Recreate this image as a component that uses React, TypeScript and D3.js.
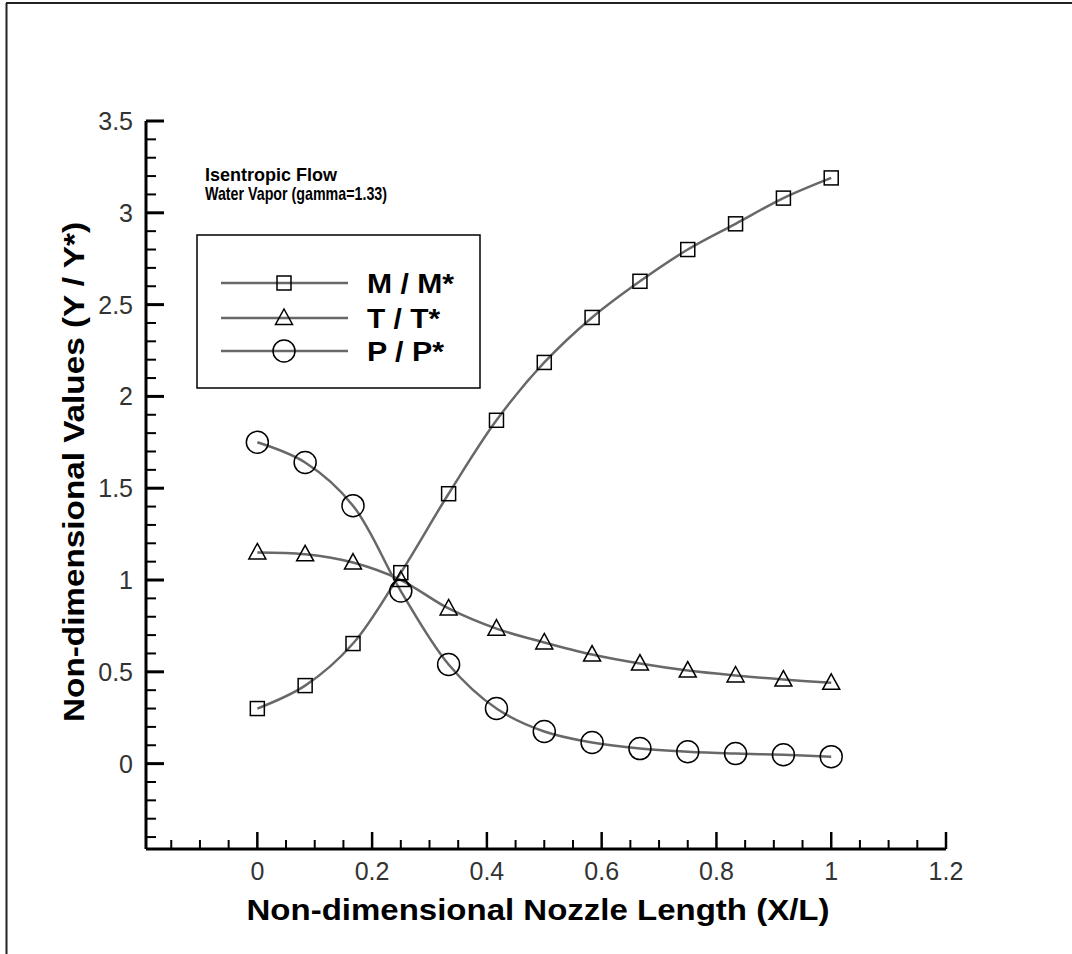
import React from 'react';
import * as d3 from 'd3';

const xPositions = [0, 0.0833, 0.1667, 0.25, 0.3333, 0.4167, 0.5, 0.5833, 0.6667, 0.75, 0.8333, 0.9167, 1];
const machRatio = [0.3, 0.425, 0.654, 1.04, 1.47, 1.87, 2.185, 2.43, 2.627, 2.8, 2.94, 3.08, 3.19];
const tempRatio = [1.15, 1.14, 1.095, 1.0, 0.845, 0.735, 0.66, 0.594, 0.545, 0.507, 0.48, 0.458, 0.44];
const presRatio = [1.75, 1.64, 1.405, 0.94, 0.54, 0.3, 0.175, 0.115, 0.082, 0.065, 0.055, 0.048, 0.038];

const xMajorTicks = [0, 0.2, 0.4, 0.6, 0.8, 1, 1.2];
const xTickLabels = ['0', '0.2', '0.4', '0.6', '0.8', '1', '1.2'];
const yMajorTicks = [0, 0.5, 1, 1.5, 2, 2.5, 3, 3.5];
const yTickLabels = ['0', '0.5', '1', '1.5', '2', '2.5', '3', '3.5'];

const seriesNames = ['M / M*', 'T / T*', 'P / P*'];
const seriesMarkers = ['square', 'triangle', 'circle'];
const seriesValues = [machRatio, tempRatio, presRatio];

const W = 1072;
const H = 954;
const FONT = '"Liberation Sans", Arial, sans-serif';
const LINE_COLOR = '#686868';

function Marker({ type, cx, cy }: { type: string; cx: number; cy: number }) {
  const st = { fill: 'none', stroke: '#000', strokeWidth: 1.5 };
  if (type === 'square') return <rect x={cx - 7} y={cy - 7} width={14} height={14} {...st} />;
  if (type === 'triangle')
    return <path d={`M${cx},${cy - 9}L${cx + 8.5},${cy + 6.5}L${cx - 8.5},${cy + 6.5}Z`} {...st} />;
  return <circle cx={cx} cy={cy} r={11} {...st} />;
}

export default function App() {
  const x = d3.scaleLinear().domain([-0.194, 1.2]).range([146, 946]);
  const y = d3.scaleLinear().domain([-0.465, 3.5]).range([849, 121]);

  const xMinor = d3.range(-0.15, 1.2001, 0.05).filter((v) => Math.abs(Math.round(v / 0.2) * 0.2 - v) > 1e-6);
  const yMinor = d3.range(-0.4, 3.5001, 0.1).filter((v) => Math.abs(Math.round(v / 0.5) * 0.5 - v) > 1e-6);

  const line = d3
    .line<[number, number]>()
    .x((d) => x(d[0]))
    .y((d) => y(d[1]))
    .curve(d3.curveCatmullRom.alpha(0.5));

  const legendRows = [283, 318, 351];

  return (
    <svg width={W} height={H} style={{ position: 'absolute', left: 0, top: 0, background: '#fff' }}>
      <rect x={0} y={0} width={W} height={H} fill="#fff" />
      {/* page frame */}
      <line x1={6.5} y1={3} x2={6.5} y2={H} stroke="#222" strokeWidth={2} />
      <line x1={6} y1={3} x2={W} y2={3} stroke="#222" strokeWidth={2} />

      {/* series lines */}
      {seriesValues.map((vals, i) => (
        <path
          key={'l' + i}
          d={line(xPositions.map((xv, j) => [xv, vals[j]] as [number, number])) || ''}
          fill="none"
          stroke={LINE_COLOR}
          strokeWidth={2.5}
        />
      ))}
      {seriesValues.map((vals, i) =>
        xPositions.map((xv, j) => <Marker key={`m${i}-${j}`} type={seriesMarkers[i]} cx={x(xv)} cy={y(vals[j])} />)
      )}

      {/* axes */}
      <line x1={x(-0.194)} y1={y(-0.465)} x2={x(1.2)} y2={y(-0.465)} stroke="#000" strokeWidth={3} />
      <line x1={x(-0.194)} y1={y(-0.465)} x2={x(-0.194)} y2={y(3.5)} stroke="#000" strokeWidth={3} />
      {xMajorTicks.map((v) => (
        <line key={'xM' + v} x1={x(v)} x2={x(v)} y1={y(-0.465)} y2={y(-0.465) - 17} stroke="#000" strokeWidth={2.5} />
      ))}
      {xMinor.map((v) => (
        <line key={'xm' + v} x1={x(v)} x2={x(v)} y1={y(-0.465)} y2={y(-0.465) - 9} stroke="#000" strokeWidth={2} />
      ))}
      {yMajorTicks.map((v) => (
        <line key={'yM' + v} x1={x(-0.194)} x2={x(-0.194) + 18} y1={y(v)} y2={y(v)} stroke="#000" strokeWidth={3} />
      ))}
      {yMinor.map((v) => (
        <line key={'ym' + v} x1={x(-0.194)} x2={x(-0.194) + 10} y1={y(v)} y2={y(v)} stroke="#000" strokeWidth={2} />
      ))}
      {xMajorTicks.map((v, i) => (
        <text key={'xl' + v} x={x(v)} y={880} textAnchor="middle" fontFamily={FONT} fontSize={25} fill="#333">
          {xTickLabels[i]}
        </text>
      ))}
      {yMajorTicks.map((v, i) => (
        <text key={'yl' + v} x={133} y={y(v) + 9} textAnchor="end" fontFamily={FONT} fontSize={25} fill="#333">
          {yTickLabels[i]}
        </text>
      ))}

      {/* axis titles */}
      <text
        x={538}
        y={920}
        textAnchor="middle"
        fontFamily={FONT}
        fontWeight="bold"
        fontSize={29}
        textLength={583}
        lengthAdjust="spacingAndGlyphs"
        fill="#000"
      >
        Non-dimensional Nozzle Length (X/L)
      </text>
      <text
        transform="translate(84,472) rotate(-90)"
        textAnchor="middle"
        fontFamily={FONT}
        fontWeight="bold"
        fontSize={30}
        textLength={500}
        lengthAdjust="spacingAndGlyphs"
        fill="#000"
      >
        Non-dimensional Values (Y / Y*)
      </text>

      {/* annotation */}
      <text x={205} y={181} fontFamily={FONT} fontWeight="bold" fontSize={19} textLength={132} lengthAdjust="spacingAndGlyphs">
        Isentropic Flow
      </text>
      <text x={205} y={200} fontFamily={FONT} fontWeight="bold" fontSize={19} textLength={182} lengthAdjust="spacingAndGlyphs">
        Water Vapor (gamma=1.33)
      </text>

      {/* legend */}
      <rect x={197} y={235} width={283} height={153} fill="#fff" stroke="#000" strokeWidth={1.5} />
      {seriesNames.map((name, i) => (
        <g key={'lg' + i}>
          <line x1={221} x2={348} y1={legendRows[i]} y2={legendRows[i]} stroke={LINE_COLOR} strokeWidth={2.5} />
          <Marker type={seriesMarkers[i]} cx={284} cy={legendRows[i]} />
          <text
            x={367}
            y={legendRows[i] + 10}
            fontFamily={FONT}
            fontWeight="bold"
            fontSize={27}
            textLength={[87, 73, 77][i]}
            lengthAdjust="spacingAndGlyphs"
          >
            {name}
          </text>
        </g>
      ))}
    </svg>
  );
}
